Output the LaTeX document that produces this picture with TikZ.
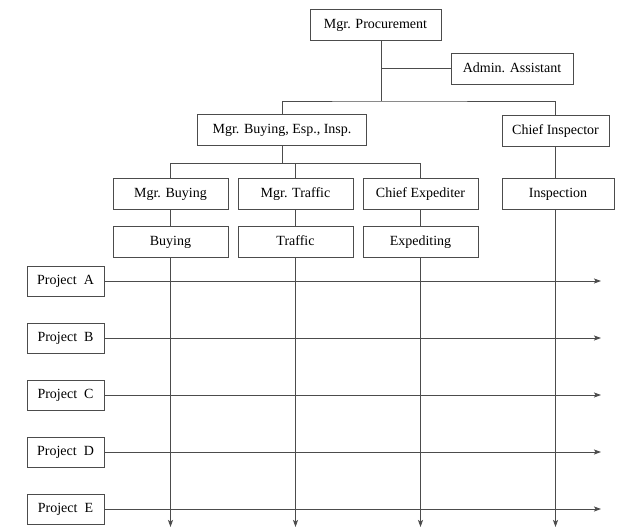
\documentclass[tikz,border=0pt]{standalone}
\usepackage{fontspec}
\setmainfont{Liberation Serif}
\usepackage{tikz}
\usetikzlibrary{arrows.meta,calc}
\tikzset{
  box/.style={draw=black!70,line width=0.8pt,minimum height=31pt,inner sep=0pt,
    text height=10pt,text depth=3pt,font=\fontsize{14}{16}\selectfont}, % org box
  unit/.style={box,minimum width=115pt},                    % department box
  proj/.style={box,minimum width=77pt,minimum height=30pt}, % project box
  link/.style={draw=black!70,line width=0.8pt},
  flow/.style={link,-{Stealth[length=7pt,width=5pt,inset=1.5pt]}},
}

\begin{document}
\begin{tikzpicture}[x=1pt,y=-1pt]
  \useasboundingbox (0,0) rectangle (617,530);
  % top levels
  \node[box,minimum width=131pt] (proc) at (375.5,24.5) {Mgr. Procurement};
  \node[box,minimum width=122pt] (admin) at (512,68.5) {Admin. Assistant};
  \node[box,minimum width=169pt] (mbei) at (282,130) {Mgr. Buying, Esp., Insp.};
  \node[box,minimum width=107pt] (chinsp) at (555.5,131) {Chief Inspector};
  \coordinate (hub) at (381,101);
  \draw[link] (hub) -- (hub |- proc.south);
  \draw[link] (admin.west) -- (admin.west -| hub);
  \draw[link] (mbei.north) |- (hub) -| (chinsp.north);
  % departments
  \node[unit] (mbuy) at (170.5,193.5) {Mgr. Buying};
  \node[unit] (mtraf) at (295.5,193.5) {Mgr. Traffic};
  \node[unit] (chexp) at (420.5,193.5) {Chief Expediter};
  \node[box,minimum width=112pt] (insp) at (558,193.5) {Inspection};
  \node[unit] (buy) at (170.5,241.5) {Buying};
  \node[unit] (traf) at (295.5,241.5) {Traffic};
  \node[unit] (expd) at (420.5,241.5) {Expediting};
  \draw[link] (mbei.south) -- ++(0,17) coordinate (split);
  \draw[link] (mbuy.north) |- (split) -| (chexp.north);
  \draw[link] (mtraf.north) -- (mtraf.north |- split);
  \draw[link] (chinsp.south) -- (chinsp.south |- insp.north);
  \foreach \a/\b in {mbuy/buy,mtraf/traf,chexp/expd}
    \draw[link] (\a.south) -- (\b.north);
  % matrix lines
  \coordinate (bot) at (0,527);
  \coordinate (rend) at (601,0);
  \foreach \d in {buy,traf,expd}
    \draw[flow] (\d.south) -- (\d.south |- bot);
  \draw[flow] (chinsp.south |- insp.south) -- (chinsp.south |- bot);
  \foreach \p/\y in {A/281,B/338,C/395,D/452,E/509}{
    \node[proj] (proj\p) at (65.5,\y) {Project\ \ \p};
    \draw[flow] (proj\p.east) -- (proj\p.east -| rend);
  }
\end{tikzpicture}
\end{document}
